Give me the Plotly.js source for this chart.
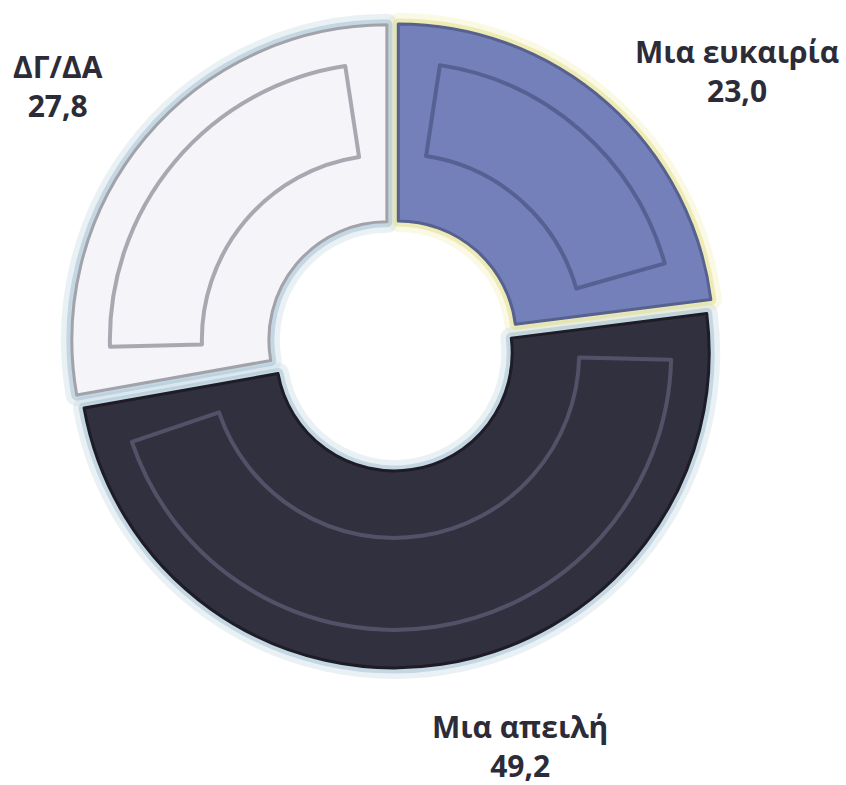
<!DOCTYPE html>
<html>
<head>
<meta charset="utf-8">
<script src="https://cdn.plot.ly/plotly-3.0.1.min.js"></script>
<style>
  html, body { margin: 0; padding: 0; background: #ffffff; }
  #chart { width: 846px; height: 785px; }
</style>
</head>
<body>
<div id="chart"></div>
<script>
// ---- data ----
const categories = ["Μια ευκαιρία", "Μια απειλή", "ΔΓ/ΔΑ"];
const values = [23.0, 49.2, 27.8];
const valueLabels = ["23,0", "49,2", "27,8"];

// ---- styles ----
const fillColors  = ["#7480ba", "#31303e", "#f4f4f9"];
const edgeColors  = ["#56618f", "#1d1c27", "#a2a2aa"];
const bevelColors = ["rgba(80,92,140,0.85)", "rgba(86,85,108,0.9)", "rgba(160,160,168,0.9)"];
const glowColors  = ["rgba(228,224,140,0.55)", "rgba(150,185,205,0.45)", "rgba(150,185,205,0.45)"];
const glowColors2 = ["rgba(240,236,170,0.30)", "rgba(180,205,220,0.28)", "rgba(180,205,220,0.28)"];

const W = 846, H = 785;
const cx = 393, cy = 345;          // pie centre in px
const R = 315, pullPx = 8;          // outer radius, pull offset
const holeR = 118;
const panelOuter = 277, panelInner = 185, gapPct = 2.4;

function domainFor(r, pull) {
  const half = r * (1 + pull);
  return {
    x: [(cx - half) / W, (cx + half) / W],
    y: [(H - (cy + half)) / H, (H - (cy - half)) / H]
  };
}

const pullMain = pullPx / R;
const pullPanel = pullPx / panelOuter;

function ringTrace(colors, lineColors, lineWidth) {
  return {
    type: "pie",
    labels: categories,
    values: values,
    sort: false,
    direction: "clockwise",
    rotation: 0,
    hole: holeR / R,
    pull: values.map(() => pullMain),
    domain: domainFor(R, pullMain),
    textinfo: "none",
    hoverinfo: "skip",
    marker: { colors: colors, line: { color: lineColors, width: lineWidth } }
  };
}

// panel (inset bevel frame) built from the same values with spacer slices
const pLabels = [], pValues = [], pColors = [], pLine = [], pWidth = [];
categories.forEach((c, i) => {
  pLabels.push(c + " a"); pValues.push(gapPct); pColors.push("rgba(0,0,0,0)"); pLine.push("rgba(0,0,0,0)"); pWidth.push(0);
  pLabels.push(c);        pValues.push(values[i] - 2 * gapPct); pColors.push(fillColors[i]); pLine.push(bevelColors[i]); pWidth.push(4);
  pLabels.push(c + " b"); pValues.push(gapPct); pColors.push("rgba(0,0,0,0)"); pLine.push("rgba(0,0,0,0)"); pWidth.push(0);
});

const panelTrace = {
  type: "pie",
  labels: pLabels,
  values: pValues,
  sort: false,
  direction: "clockwise",
  rotation: 0,
  hole: panelInner / panelOuter,
  pull: pValues.map(() => pullPanel),
  domain: domainFor(panelOuter, pullPanel),
  textinfo: "none",
  hoverinfo: "skip",
  marker: { colors: pColors, line: { color: pLine, width: pWidth } }
};

const data = [
  ringTrace(fillColors, glowColors2, 22),
  ringTrace(fillColors, glowColors, 11),
  ringTrace(fillColors, edgeColors, 3),
  panelTrace
];

const labelPos = [
  { x: 737, y: 71 },
  { x: 520, y: 746 },
  { x: 58,  y: 86 }
];

const annotations = categories.map((c, i) => ({
  xref: "paper", yref: "paper",
  x: labelPos[i].x / W, y: 1 - labelPos[i].y / H,
  xanchor: "center", yanchor: "middle",
  text: "<b>" + c + "<br>" + valueLabels[i] + "</b>",
  showarrow: false,
  align: "center",
  font: { family: "'Open Sans', 'Noto Sans', sans-serif", size: 30, color: "#2c2c38" }
}));

const layout = {
  width: W, height: H,
  margin: { l: 0, r: 0, t: 0, b: 0 },
  paper_bgcolor: "#ffffff",
  showlegend: false,
  annotations: annotations
};

Plotly.newPlot("chart", data, layout, { staticPlot: true, displayModeBar: false });
</script>
</body>
</html>
